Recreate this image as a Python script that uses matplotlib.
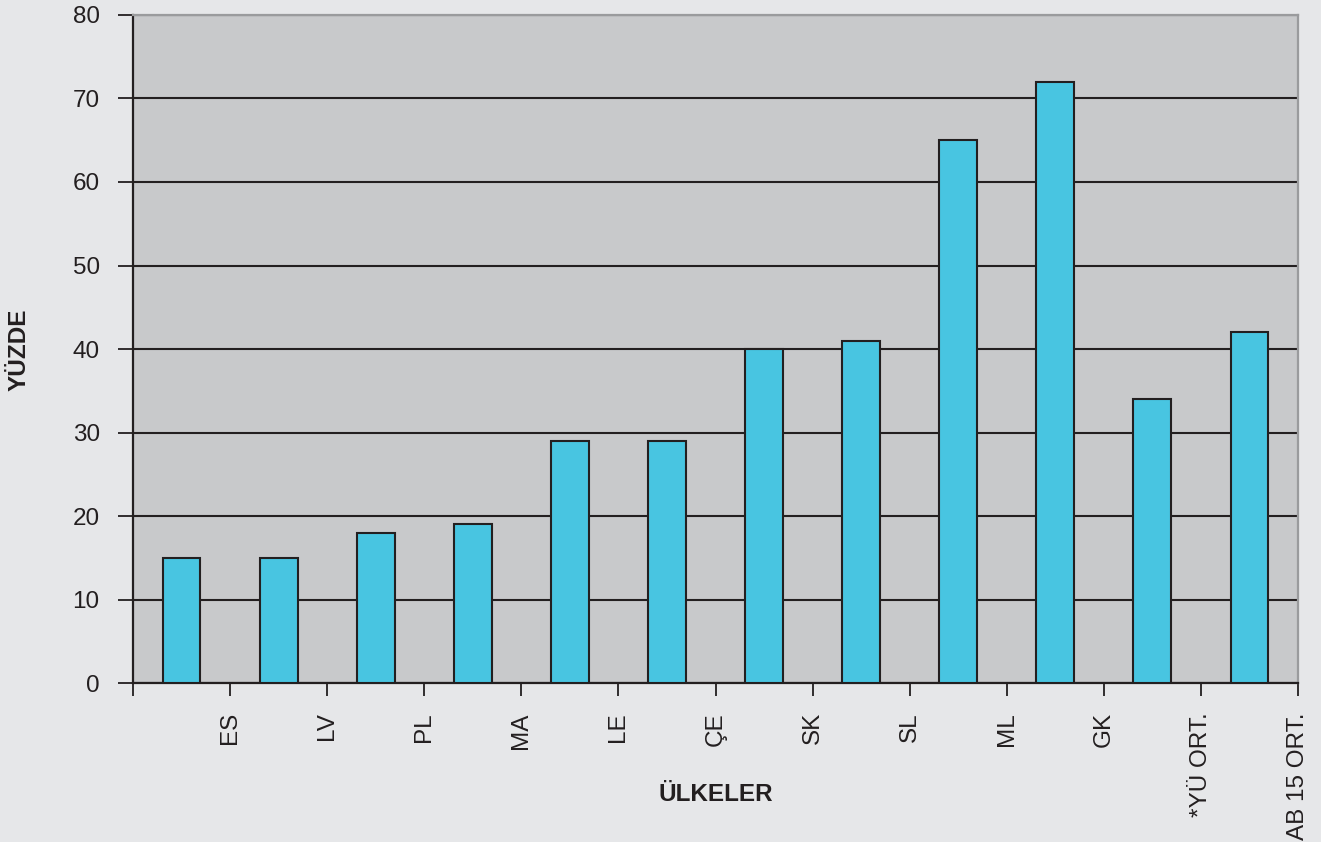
import numpy as np
import matplotlib.pyplot as plt

# Share (%) per country, bars sit one slot to the left of their tick label
ulkeler = ["ES", "LV", "PL", "MA", "LE", "ÇE", "SK", "SL", "ML", "GK",
           "*YÜ ORT.", "AB 15 ORT."]
yuzde = [15, 15, 18, 19, 29, 29, 40, 41, 65, 72, 34, 42]
y_ticks = [0, 10, 20, 30, 40, 50, 60, 70, 80]

ink = "#231f20"
fs = 17.5
plt.rcParams["font.family"] = ["Liberation Sans", "DejaVu Sans"]

fig = plt.figure(figsize=(13.21, 8.42), dpi=100, facecolor="#e6e7e9")
ax = fig.add_axes([0.1007, 0.1888, 0.8819, 0.7934])
ax.set_facecolor("#c8c9cb")

pos = np.arange(len(yuzde)) + 0.5
ax.bar(pos, yuzde, width=0.39, color="#48c5e1", edgecolor=ink,
       linewidth=1.5, zorder=3)

ax.set_xlim(0, len(yuzde))
ax.set_ylim(0, 80)
ax.set_yticks(y_ticks)
ax.set_xticks(np.arange(0, len(yuzde) + 1))
ax.set_xticklabels([""] + ulkeler, rotation=90)

ax.yaxis.grid(True, color=ink, linewidth=1.5, zorder=1)
ax.set_axisbelow(True)

ax.tick_params(axis="y", length=11, width=1.3, color=ink, pad=13,
               labelsize=fs, labelcolor=ink)
ax.tick_params(axis="x", length=9, width=1.3, color=ink, pad=12,
               labelsize=fs, labelcolor=ink)

for side in ("left", "bottom"):
    ax.spines[side].set_color(ink)
    ax.spines[side].set_linewidth(1.6)
for side in ("top", "right"):
    ax.spines[side].set_color("#9a9b9d")
    ax.spines[side].set_linewidth(1.6)

fig.text(0.0145, 0.585, "YÜZDE", fontsize=fs, fontweight="bold", color=ink,
         rotation=90, ha="center", va="center")
fig.text(0.542, 0.056, "ÜLKELER", fontsize=fs, fontweight="bold", color=ink,
         ha="center", va="center")

fig.savefig("out.png", dpi=100, facecolor=fig.get_facecolor())
